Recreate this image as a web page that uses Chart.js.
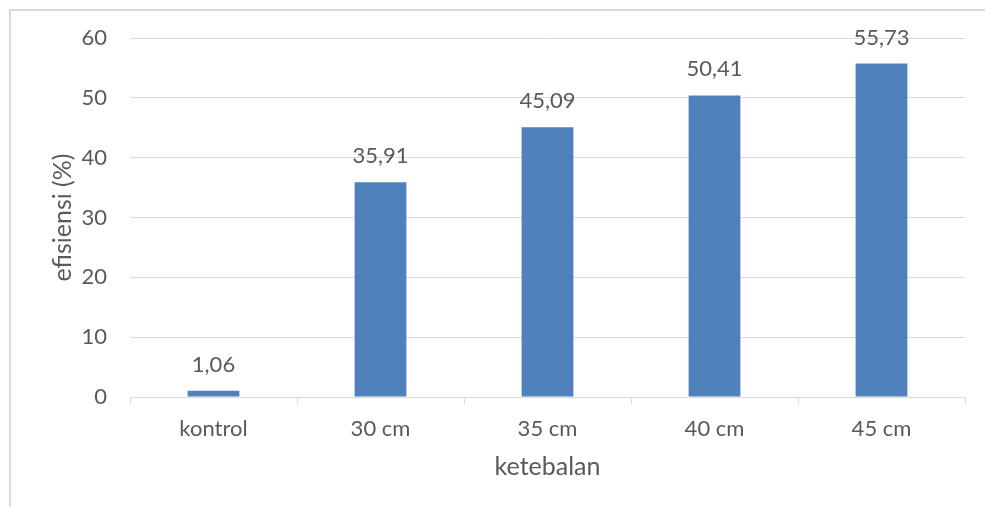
<!DOCTYPE html>
<html>
<head>
<meta charset="utf-8">
<script src="https://cdn.jsdelivr.net/npm/chart.js@4.4.1/dist/chart.umd.min.js"></script>
<style>
  html, body { margin: 0; padding: 0; background: #fff; }
  .wrap { position: relative; width: 985px; height: 507px; }
  .frame { position: absolute; left: 9px; top: 9px; width: 1000px; height: 520px; border: 2px solid #d9d9d9; box-sizing: border-box; }
  canvas { position: absolute; left: 0; top: 0; }
</style>
</head>
<body>
<div class="wrap">
  <div class="frame"></div>
  <canvas id="chart" width="985" height="507"></canvas>
</div>
<script>
const categories = ['kontrol', '30 cm', '35 cm', '40 cm', '45 cm'];
const efisiensi = [1.06, 35.91, 45.09, 50.41, 55.73];
const yTicks = [0, 10, 20, 30, 40, 50, 60];
const yTitle = 'efisiensi (%)';

const textColor = '#595959';
const gridColor = '#d9d9d9';
const fontFamily = 'Lato, "Open Sans", sans-serif';

// value labels above each bar (decimal comma) + rotated y axis title
const barLabels = {
  id: 'barLabels',
  afterDatasetsDraw(chart) {
    const ctx = chart.ctx;
    const meta = chart.getDatasetMeta(0);
    ctx.save();
    ctx.fillStyle = textColor;
    ctx.font = '22px ' + fontFamily;
    ctx.textAlign = 'center';
    ctx.textBaseline = 'middle';
    meta.data.forEach((bar, i) => {
      const txt = efisiensi[i].toFixed(2).replace('.', ',');
      ctx.fillText(txt, bar.x, bar.y - 26);
    });

    const area = chart.chartArea;
    ctx.font = '25px ' + fontFamily;
    ctx.translate(63, (area.top + area.bottom) / 2);
    ctx.rotate(-Math.PI / 2);
    ctx.fillText(yTitle, 0, 0);
    ctx.restore();
  }
};

new Chart(document.getElementById('chart'), {
  type: 'bar',
  data: {
    labels: categories,
    datasets: [{
      label: yTitle,
      data: efisiensi,
      backgroundColor: '#4f81bd',
      borderWidth: 0,
      categoryPercentage: 1,
      barPercentage: 0.31
    }]
  },
  options: {
    responsive: false,
    animation: false,
    layout: { padding: { left: 0, right: 20, top: 38, bottom: 0 } },
    plugins: { legend: { display: false }, tooltip: { enabled: false } },
    scales: {
      x: {
        afterFit(scale) { scale.height = 110; },
        grid: { drawOnChartArea: false, drawTicks: true, tickLength: 7, color: gridColor, offset: true },
        border: { display: true, color: gridColor, width: 1 },
        ticks: { color: textColor, font: { family: fontFamily, size: 22 }, padding: 12 },
        title: { display: true, text: 'ketebalan', color: textColor, font: { family: fontFamily, size: 25 }, padding: { top: 4, bottom: 25 } }
      },
      y: {
        min: 0,
        max: 60,
        afterFit(scale) { scale.width = 130; },
        afterBuildTicks(scale) { scale.ticks = yTicks.map(v => ({ value: v })); },
        grid: { drawTicks: false, color: gridColor, lineWidth: 1 },
        border: { display: false },
        ticks: { color: textColor, font: { family: fontFamily, size: 22 }, padding: 23 },
        title: { display: false }
      }
    }
  },
  plugins: [barLabels]
});
</script>
</body>
</html>
